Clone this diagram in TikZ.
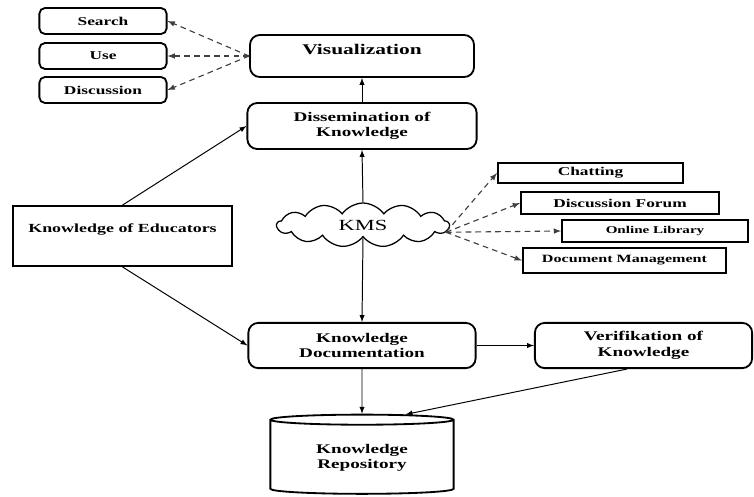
\documentclass[tikz,border=0pt]{standalone}
\usepackage{fontspec}
\setmainfont{Liberation Serif}[FakeStretch=1.45]
\usetikzlibrary{shapes.geometric,shapes.symbols}

\tikzset{
	roundbox/.style={draw, line width=1.3pt, rounded corners=7pt, align=center, font=\bfseries\fontsize{9.4}{11}\selectfont},
	smallbox/.style={draw, line width=1.3pt, rounded corners=4pt, minimum width=3.18cm, minimum height=0.65cm, font=\bfseries\fontsize{8.5}{10}\selectfont},
	toolbox/.style={draw, line width=1.3pt, font=\bfseries\fontsize{8.5}{10}\selectfont},
	link/.style={line width=0.7pt, -latex},
	dashlink/.style={line width=0.8pt, black!75, dash pattern=on 4pt off 3pt, -latex},
}

\begin{document}
\begin{tikzpicture}[x=0.025cm,y=-0.025cm]
	\useasboundingbox (0,0) rectangle (754,496);
	
	%LEFT TOP BOXES
	\foreach \name/\txt/\y in {search/Search/21, use/Use/56, disc/Discussion/90}{
		\node[smallbox] (\name) at (103,\y) {\txt};
	}
	
	%MIDDLE COLUMN
	\node[roundbox, minimum width=5.6cm, minimum height=1.05cm, text depth=9pt, font=\bfseries\fontsize{10.5}{12}\selectfont] (vis) at (362,56) {Visualization};
	\node[roundbox, minimum width=5.73cm, minimum height=1.15cm] (diss) at (362,126) {Dissemination of\\Knowledge};
	\node[cloud, draw, line width=0.9pt, cloud puffs=13, cloud puff arc=110, aspect=4, minimum width=4.3cm, minimum height=1.1cm, font=\fontsize{11}{13}\selectfont] (kms) at (363,225) {KMS};
	\node[roundbox, minimum width=5.68cm, minimum height=1.13cm] (doc) at (362,345.5) {Knowledge\\Documentation};
	\node[roundbox, minimum width=5.43cm, minimum height=1.13cm] (verif) at (643.5,345.5) {Verifikation of\\Knowledge};
	\node[cylinder, draw, line width=1.3pt, shape border rotate=90, shape aspect=0.1, minimum width=4.58cm, minimum height=1.98cm, align=center, font=\bfseries\fontsize{9.4}{11}\selectfont] (repo) at (362,458) {Knowledge\\Repository};
	
	%LEFT BOX
	\node[draw, line width=1.3pt, minimum width=5.48cm, minimum height=1.5cm, align=center, font=\bfseries\fontsize{8.8}{11}\selectfont] (edu) at (122.5,236) {Knowledge of Educators\\\mbox{}};
	
	%RIGHT BOXES
	\node[toolbox, minimum width=4.63cm, minimum height=0.5cm] (chat) at (590.5,173) {Chatting};
	\node[toolbox, minimum width=4.95cm, minimum height=0.53cm] (forum) at (620,203) {Discussion Forum};
	\node[toolbox, minimum width=4.65cm, minimum height=0.55cm, font=\bfseries\fontsize{7.4}{9}\selectfont] (lib) at (655,231) {Online Library};
	\node[toolbox, minimum width=5.08cm, minimum height=0.63cm, font=\bfseries\fontsize{7.9}{9}\selectfont] (docm) at (624.5,260.5) {Document Management};
	
	%ARROWS
	\draw[link] (edu.north) -- (diss.west);
	\draw[link] (edu.south) -- (doc.west);
	\draw[link] (kms.north) -- (diss.south);
	\draw[link] (diss.north) -- (vis.south);
	\draw[link] (kms.south) -- (doc.north);
	\draw[link] (doc.south) -- (repo.north);
	\draw[link] (doc.east) -- (verif.west);
	\draw[link] (verif.235) -- (repo.45);
	
	%DASHED ARROWS
	\foreach \n in {search,use,disc} \draw[dashlink] (vis.west) -- (\n.east);
	\foreach \n in {chat,forum,lib,docm} \draw[dashlink] (kms.-5) -- (\n.west);
\end{tikzpicture}
\end{document}
